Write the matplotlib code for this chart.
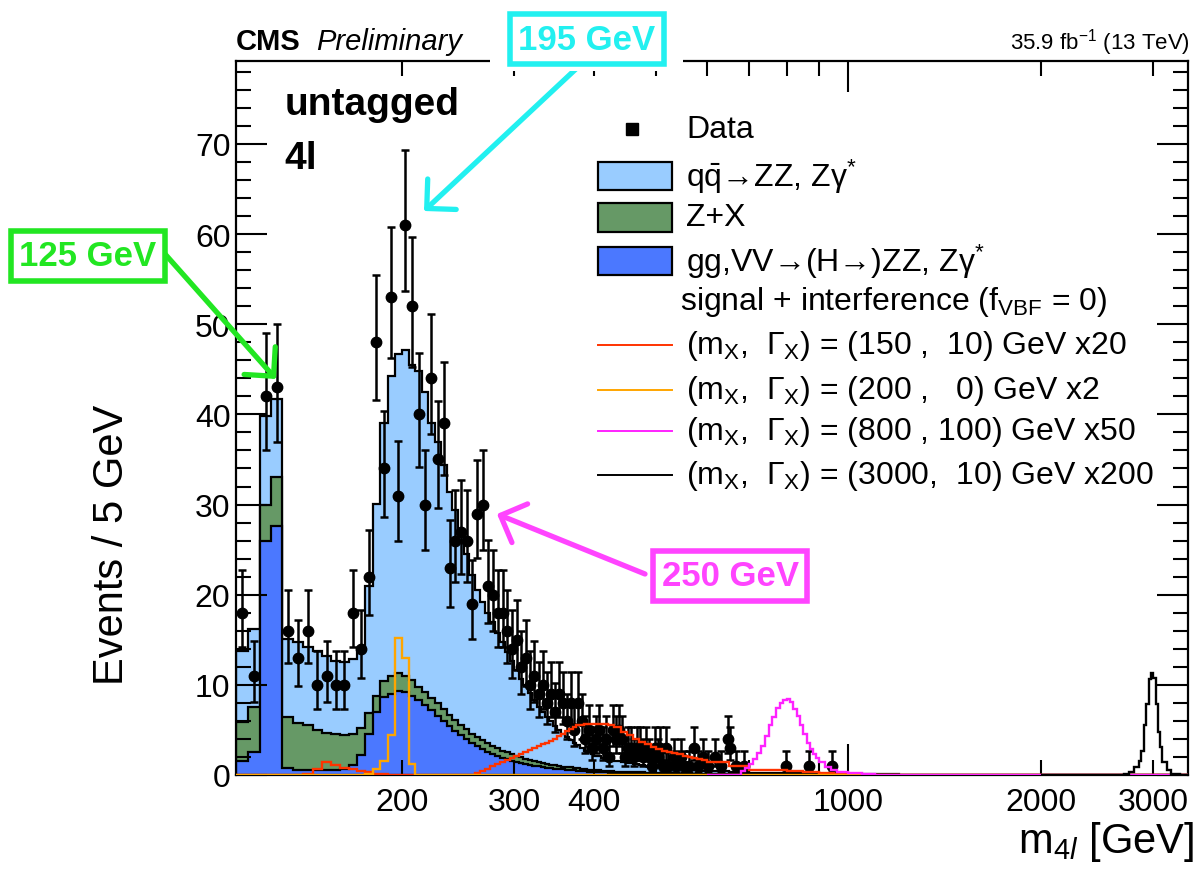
import numpy as np
import matplotlib
matplotlib.use("Agg")
import matplotlib.pyplot as plt
from matplotlib.patches import Rectangle
from matplotlib.ticker import FixedLocator, FuncFormatter, MultipleLocator

plt.rcParams['font.family'] = ['Liberation Sans', 'DejaVu Sans']
plt.rcParams['mathtext.fontset'] = 'custom'
plt.rcParams['mathtext.rm'] = 'Liberation Sans'
plt.rcParams['mathtext.it'] = 'Liberation Sans:italic'
plt.rcParams['mathtext.bf'] = 'Liberation Sans:bold'

# background binning in m4l (GeV)
edges = np.concatenate([np.arange(110, 400, 5), np.arange(400, 600, 10),
                        np.arange(600, 1000, 50), [1000, 1200, 1500, 2000, 3400]])

# gg,VV -> (H->) ZZ
gg = [1.5, 2.5, 26.0, 27.6,
      0.8, 0.6, 0.5, 0.5, 0.5, 0.6, 0.7, 1.1, 2.2,
      4.5, 7.0, 8.6, 9.0, 9.3, 9.2, 8.8, 8.3, 7.8, 7.2,
      6.6, 6.0, 5.4, 4.9, 4.4, 4.0, 3.6, 3.2, 2.9, 2.6,
      2.35, 2.1, 1.9, 1.75, 1.6, 1.45, 1.35, 1.25, 1.15, 1.05,
      0.97, 0.9, 0.83, 0.77, 0.72, 0.67, 0.62, 0.58, 0.54, 0.5,
      0.47, 0.44, 0.41, 0.38, 0.36,
      0.33, 0.30, 0.27, 0.25, 0.23, 0.21, 0.19, 0.18, 0.16, 0.15,
      0.14, 0.13, 0.12, 0.11, 0.10, 0.095, 0.09, 0.085, 0.08, 0.075,
      0.06, 0.05, 0.04, 0.035, 0.03, 0.025, 0.02, 0.015,
      0.01, 0.006, 0.003, 0.001]

# Z+X
zx = [4.4, 5.0, 3.9, 5.5,
      5.6, 5.2, 5.0, 4.5, 4.2, 3.9, 3.7, 3.5, 3.0,
      2.4, 1.8, 1.8, 2.0, 2.0, 1.8, 1.7, 1.5, 1.4, 1.35,
      1.35, 1.35, 1.3, 1.25, 1.2, 1.1, 1.0, 1.0, 0.95, 0.9,
      0.88, 0.85, 0.8, 0.75, 0.7, 0.65, 0.62, 0.58, 0.55, 0.5,
      0.47, 0.43, 0.4, 0.37, 0.35, 0.33, 0.32, 0.31, 0.3, 0.29,
      0.27, 0.26, 0.24, 0.22, 0.2,
      0.17, 0.15, 0.15, 0.13, 0.12, 0.11, 0.10, 0.10, 0.09, 0.08,
      0.08, 0.07, 0.07, 0.06, 0.06, 0.05, 0.05, 0.05, 0.04, 0.04,
      0.03, 0.03, 0.02, 0.02, 0.01, 0.01, 0.01, 0.01,
      0.005, 0.003, 0.002, 0.001]

# qqbar -> ZZ, Zgamma*
qq = [7.9, 8.7, 9.9, 8.6,
      8.7, 8.9, 8.7, 8.8, 8.5, 8.2, 8.1, 8.3, 8.8,
      14.1, 21.3, 28.6, 33.3, 35.4, 36.1, 35.0, 35.0, 33.3, 30.5,
      29.0, 27.0, 24.7, 23.3, 21.4, 19.4, 17.6, 16.3, 15.3, 14.5,
      13.7, 12.8, 12.0, 11.1, 10.3, 9.5, 8.7, 8.1, 7.4, 6.75,
      6.15, 5.7, 5.2, 4.8, 4.35, 4.0, 3.65, 3.3, 3.05, 2.8,
      2.55, 2.3, 2.05, 1.9, 1.75,
      1.6, 1.45, 1.33, 1.22, 1.1, 1.0, 0.92, 0.85, 0.78, 0.72,
      0.66, 0.61, 0.57, 0.53, 0.49, 0.46, 0.43, 0.40, 0.37, 0.35,
      0.30, 0.25, 0.20, 0.16, 0.13, 0.11, 0.09, 0.07,
      0.05, 0.03, 0.015, 0.005]

# signal + interference, same binning as the backgrounds
sig150 = [0.0, 0.0, 0.0, 0.0,
          0.0, 0.05, 0.1, 0.7, 1.4, 1.1, 0.8, 0.7, 0.4,
          0.3, 0.1, 0.1, 0.05, 0.05, 0.05, 0.05, 0.05, 0.05, 0.05,
          0.05, 0.05, 0.05, 0.05, 0.05, 0.05, 0.05, 0.2, 0.45, 0.7,
          0.95, 1.2, 1.45, 1.65, 1.85, 2.1, 2.3, 2.55, 2.8, 3.0,
          3.2, 3.4, 3.6, 3.8, 4.0, 4.3, 4.6, 4.9, 5.1, 5.3,
          5.5, 5.6, 5.65, 5.7, 5.7,
          5.7, 5.7, 5.6, 5.3, 4.8, 4.4, 4.0, 3.7, 3.4, 3.1,
          2.9, 2.7, 2.5, 2.4, 2.3, 2.1, 2.0, 1.9, 1.8, 1.7,
          1.4, 1.0, 0.6, 0.5, 0.4, 0.3, 0.2, 0.1,
          0.05, 0.0, 0.0, 0.0]

sig200 = [0.03, 0.03, 0.03, 0.03,
          0.03, 0.03, 0.03, 0.03, 0.03, 0.03, 0.03, 0.03, 0.03,
          0.1, 0.7, 1.5, 4.4, 15.2, 13.0, 1.2, 0.05, 0.05, 0.05,
          0.05, 0.05, 0.05, 0.05, 0.05, 0.05, 0.05, 0.05, 0.05, 0.05,
          0.05, 0.05, 0.05, 0.05, 0.05, 0.05, 0.05, 0.05, 0.05, 0.05,
          0.05, 0.05, 0.05, 0.05, 0.05, 0.05, 0.05, 0.05, 0.05, 0.05,
          0.05, 0.05, 0.05, 0.05, 0.05,
          0.05, 0.05, 0.05, 0.05, 0.05, 0.05, 0.05, 0.05, 0.05, 0.05,
          0.0, 0.0, 0.0, 0.0, 0.0, 0.0, 0.0, 0.0, 0.0, 0.0,
          0.0, 0.0, 0.0, 0.0, 0.0, 0.0, 0.0, 0.0,
          0.0, 0.0, 0.0, 0.0]

edges800 = np.concatenate([[600], np.arange(680, 900, 10),
                           [900, 920, 940, 960, 1000, 1050, 1100, 3400]])
sig800 = [0.0, 0.4, 0.8, 1.2, 1.8, 2.4, 3.2, 4.3, 5.5, 6.4, 7.4, 8.0, 8.3,
          8.4, 8.1, 7.3, 6.5, 5.5, 4.6, 3.6, 2.9, 2.3, 1.9,
          1.4, 0.9, 0.6, 0.35, 0.2, 0.1, 0.03]

edges3000 = [2000, 2700, 2750, 2800, 2850, 2875, 2900, 2925, 2950, 2975,
             3000, 3025, 3050, 3075, 3100, 3150, 3200, 3300, 3400]
sig3000 = [0.05, 0.1, 0.3, 0.9, 1.5, 2.7, 5.5, 7.9, 10.6, 11.3,
           10.8, 7.9, 4.8, 3.1, 1.4, 0.5, 0.15, 0.05]

# observed events (5 GeV bins, bin centres)
data_mass = list(np.arange(112.5, 400, 5)) + [
    402.5, 407.5, 412.5, 417.5, 422.5, 427.5, 432.5, 437.5, 442.5, 447.5,
    452.5, 457.5, 462.5, 467.5, 472.5, 477.5, 482.5, 487.5, 492.5, 497.5,
    502.5, 507.5, 512.5, 517.5, 522.5, 532.5, 537.5, 547.5, 552.5, 562.5,
    572.5, 582.5, 592.5, 602.5, 617.5, 632.5, 647.5, 652.5, 667.5, 687.5,
    797.5, 867.5, 942.5]
data_count = [18, 11, 42, 43,
              16, 13, 16, 10, 11, 10, 10, 18, 14,
              22, 48, 34, 53, 31, 61, 52, 40, 30, 44,
              35, 39, 23, 26, 27, 26, 19, 29, 30, 21,
              20, 18, 18, 16, 14, 15, 12, 13, 10, 11,
              9, 10, 8, 9, 7, 9, 8, 6, 8, 5,
              8, 6, 4, 5, 3,
              4, 5, 3, 4, 2, 5, 4, 5, 4, 2,
              3, 3, 2, 3, 3, 2, 3, 2, 1, 3,
              2, 3, 1, 3, 1, 2, 1, 2, 1, 1,
              3, 1, 2, 1, 2, 1, 4, 3, 1, 1,
              1, 1, 1]

fig = plt.figure(figsize=(12.03, 8.78), dpi=100)
ax = fig.add_axes([236 / 1203, 1 - 776 / 878, 952 / 1203, 714 / 878])

# stacked backgrounds
gg_top = np.array(gg)
zx_top = gg_top + np.array(zx)
qq_top = zx_top + np.array(qq)
for top, col in [(qq_top, '#99ccff'), (zx_top, '#669966'), (gg_top, '#4b78ff')]:
    ax.stairs(top, edges, baseline=0, fill=True, color=col, lw=0)
    ax.stairs(top, edges, baseline=0, color='black', lw=1.6)

# data with approximate Poisson errors
n = np.array(data_count, dtype=float)
err_hi = 0.5 + np.sqrt(n + 0.25)
err_lo = np.sqrt(n + 0.25) - 0.5
ax.errorbar(data_mass, n, yerr=[err_lo, err_hi], fmt='o', color='black', ms=7.5,
            elinewidth=1.8, capsize=3, capthick=1.8, zorder=4)

# signal curves, drawn over the data like the original
ax.stairs(sig150, edges, baseline=None, color='#ff3300', lw=1.7, zorder=6)
ax.stairs(sig200, edges, baseline=None, color='#ffa500', lw=1.7, zorder=6)
ax.stairs(sig800, edges800, baseline=None, color='#ff22ff', lw=1.7, zorder=6)
ax.stairs(sig3000, edges3000, baseline=None, color='black', lw=1.7, zorder=6)

ax.set_xscale('log')
ax.set_xlim(110, 3400)
ax.set_ylim(0, 79.2)

ax.xaxis.set_major_locator(FixedLocator([1000]))
ax.xaxis.set_minor_locator(FixedLocator([200, 300, 400, 500, 600, 700, 800, 900, 2000, 3000]))
ax.xaxis.set_major_formatter(FuncFormatter(lambda v, p: f"{v:.0f}"))
ax.xaxis.set_minor_formatter(FuncFormatter(
    lambda v, p: f"{v:.0f}" if round(v) in (200, 300, 400, 2000, 3000) else ""))
ax.yaxis.set_major_locator(MultipleLocator(10))
ax.yaxis.set_minor_locator(MultipleLocator(2))
ax.tick_params(axis='both', which='both', direction='in', top=True, right=True,
               labelsize=23, width=1.5)
ax.tick_params(axis='x', which='both', pad=9)
ax.tick_params(axis='y', which='both', pad=4)
ax.tick_params(which='major', length=22)
ax.tick_params(which='minor', length=11)
for s in ax.spines.values():
    s.set_linewidth(1.6)

ax.set_ylabel("Events / 5 GeV", fontsize=30)
ax.yaxis.set_label_coords(-0.109, 0.324)
ax.set_xlabel(r"m$_{4\mathit{l}}$ [GeV]", fontsize=30, loc='right')
ax.xaxis.set_label_coords(1.006, -0.062)

ax.text(0.051, 0.965, "untagged", transform=ax.transAxes, fontsize=28,
        fontweight='bold', va='top')
ax.text(0.051, 0.89, "4l", transform=ax.transAxes, fontsize=28,
        fontweight='bold', va='top')

# legend, drawn by hand to follow the ROOT layout
hx0, hw, hh = 0.380, 0.078, 0.040
tx = 0.473
fs = 23
ax.plot([0.416], [0.905], 's', color='black', ms=9, transform=ax.transAxes)
ax.text(tx, 0.905, "Data", transform=ax.transAxes, fontsize=fs, va='center')
box_rows = [(0.839, '#99ccff', r"q$\bar{\mathrm{q}}$→ZZ, Zγ$^{*}$"),
            (0.781, '#669966', "Z+X"),
            (0.720, '#4b78ff', r"gg,VV→(H→)ZZ, Zγ$^{*}$")]
for y, col, lab in box_rows:
    ax.add_patch(Rectangle((hx0, y - hh / 2), hw, hh, transform=ax.transAxes,
                           facecolor=col, edgecolor='black', lw=1.6, zorder=6))
    ax.text(tx, y, lab, transform=ax.transAxes, fontsize=fs, va='center')
ax.text(0.466, 0.664, r"signal + interference (f$_{\mathrm{VBF}}$ = 0)",
        transform=ax.transAxes, fontsize=fs, va='center')
line_rows = [(0.602, '#ff3300', "(150 ,  10) GeV x20"),
             (0.539, '#ffa500', "(200 ,   0) GeV x2"),
             (0.482, '#ff22ff', "(800 , 100) GeV x50"),
             (0.420, 'black', "(3000,  10) GeV x200")]
for y, col, lab in line_rows:
    ax.plot([hx0, hx0 + hw], [y, y], color=col, lw=1.4, transform=ax.transAxes)
    ax.text(tx, y, r"(m$_{\mathrm{X}}$,  Γ$_{\mathrm{X}}$) = " + lab,
            transform=ax.transAxes, fontsize=fs, va='center')

# header
fig.text(236 / 1203, 1 - 50 / 878, "CMS", fontsize=21, fontweight='bold', va='baseline')
fig.text(316 / 1203, 1 - 50 / 878, "Preliminary", fontsize=21, style='italic', va='baseline')
fig.text(1190 / 1203, 1 - 50 / 878, r"35.9 fb$^{-1}$ (13 TeV)", fontsize=16,
         ha='right', va='baseline')

# highlighted mass callouts
fig.patches.append(Rectangle((490 / 1203, 1 - 72 / 878), 193 / 1203, 64 / 878,
                             transform=fig.transFigure, facecolor='white',
                             edgecolor='none', zorder=1))
callouts = [("195 GeV", '#22f0f0', (587, 40), (578, 68), (424, 212)),
            ("125 GeV", '#22e622', (88, 257), (165, 255), (276, 380)),
            ("250 GeV", '#ff44ff', (730, 577), (645, 575), (497, 515))]
for lab, col, (cx, cy), (sx, sy), (ex, ey) in callouts:
    fig.text(cx / 1203, 1 - cy / 878, lab, fontsize=25, fontweight='bold', color=col,
             ha='center', va='center', zorder=4,
             bbox=dict(boxstyle='square,pad=0.25', facecolor='white', edgecolor=col, lw=4))
    ax.annotate("", xy=(ex / 1203, 1 - ey / 878), xytext=(sx / 1203, 1 - sy / 878),
                xycoords='figure fraction', textcoords='figure fraction',
                annotation_clip=False,
                arrowprops=dict(arrowstyle='->,head_length=0.75,head_width=0.75',
                                color=col, lw=3.8, mutation_scale=20,
                                shrinkA=0, shrinkB=0), zorder=7)

fig.savefig("out.png", dpi=100)
